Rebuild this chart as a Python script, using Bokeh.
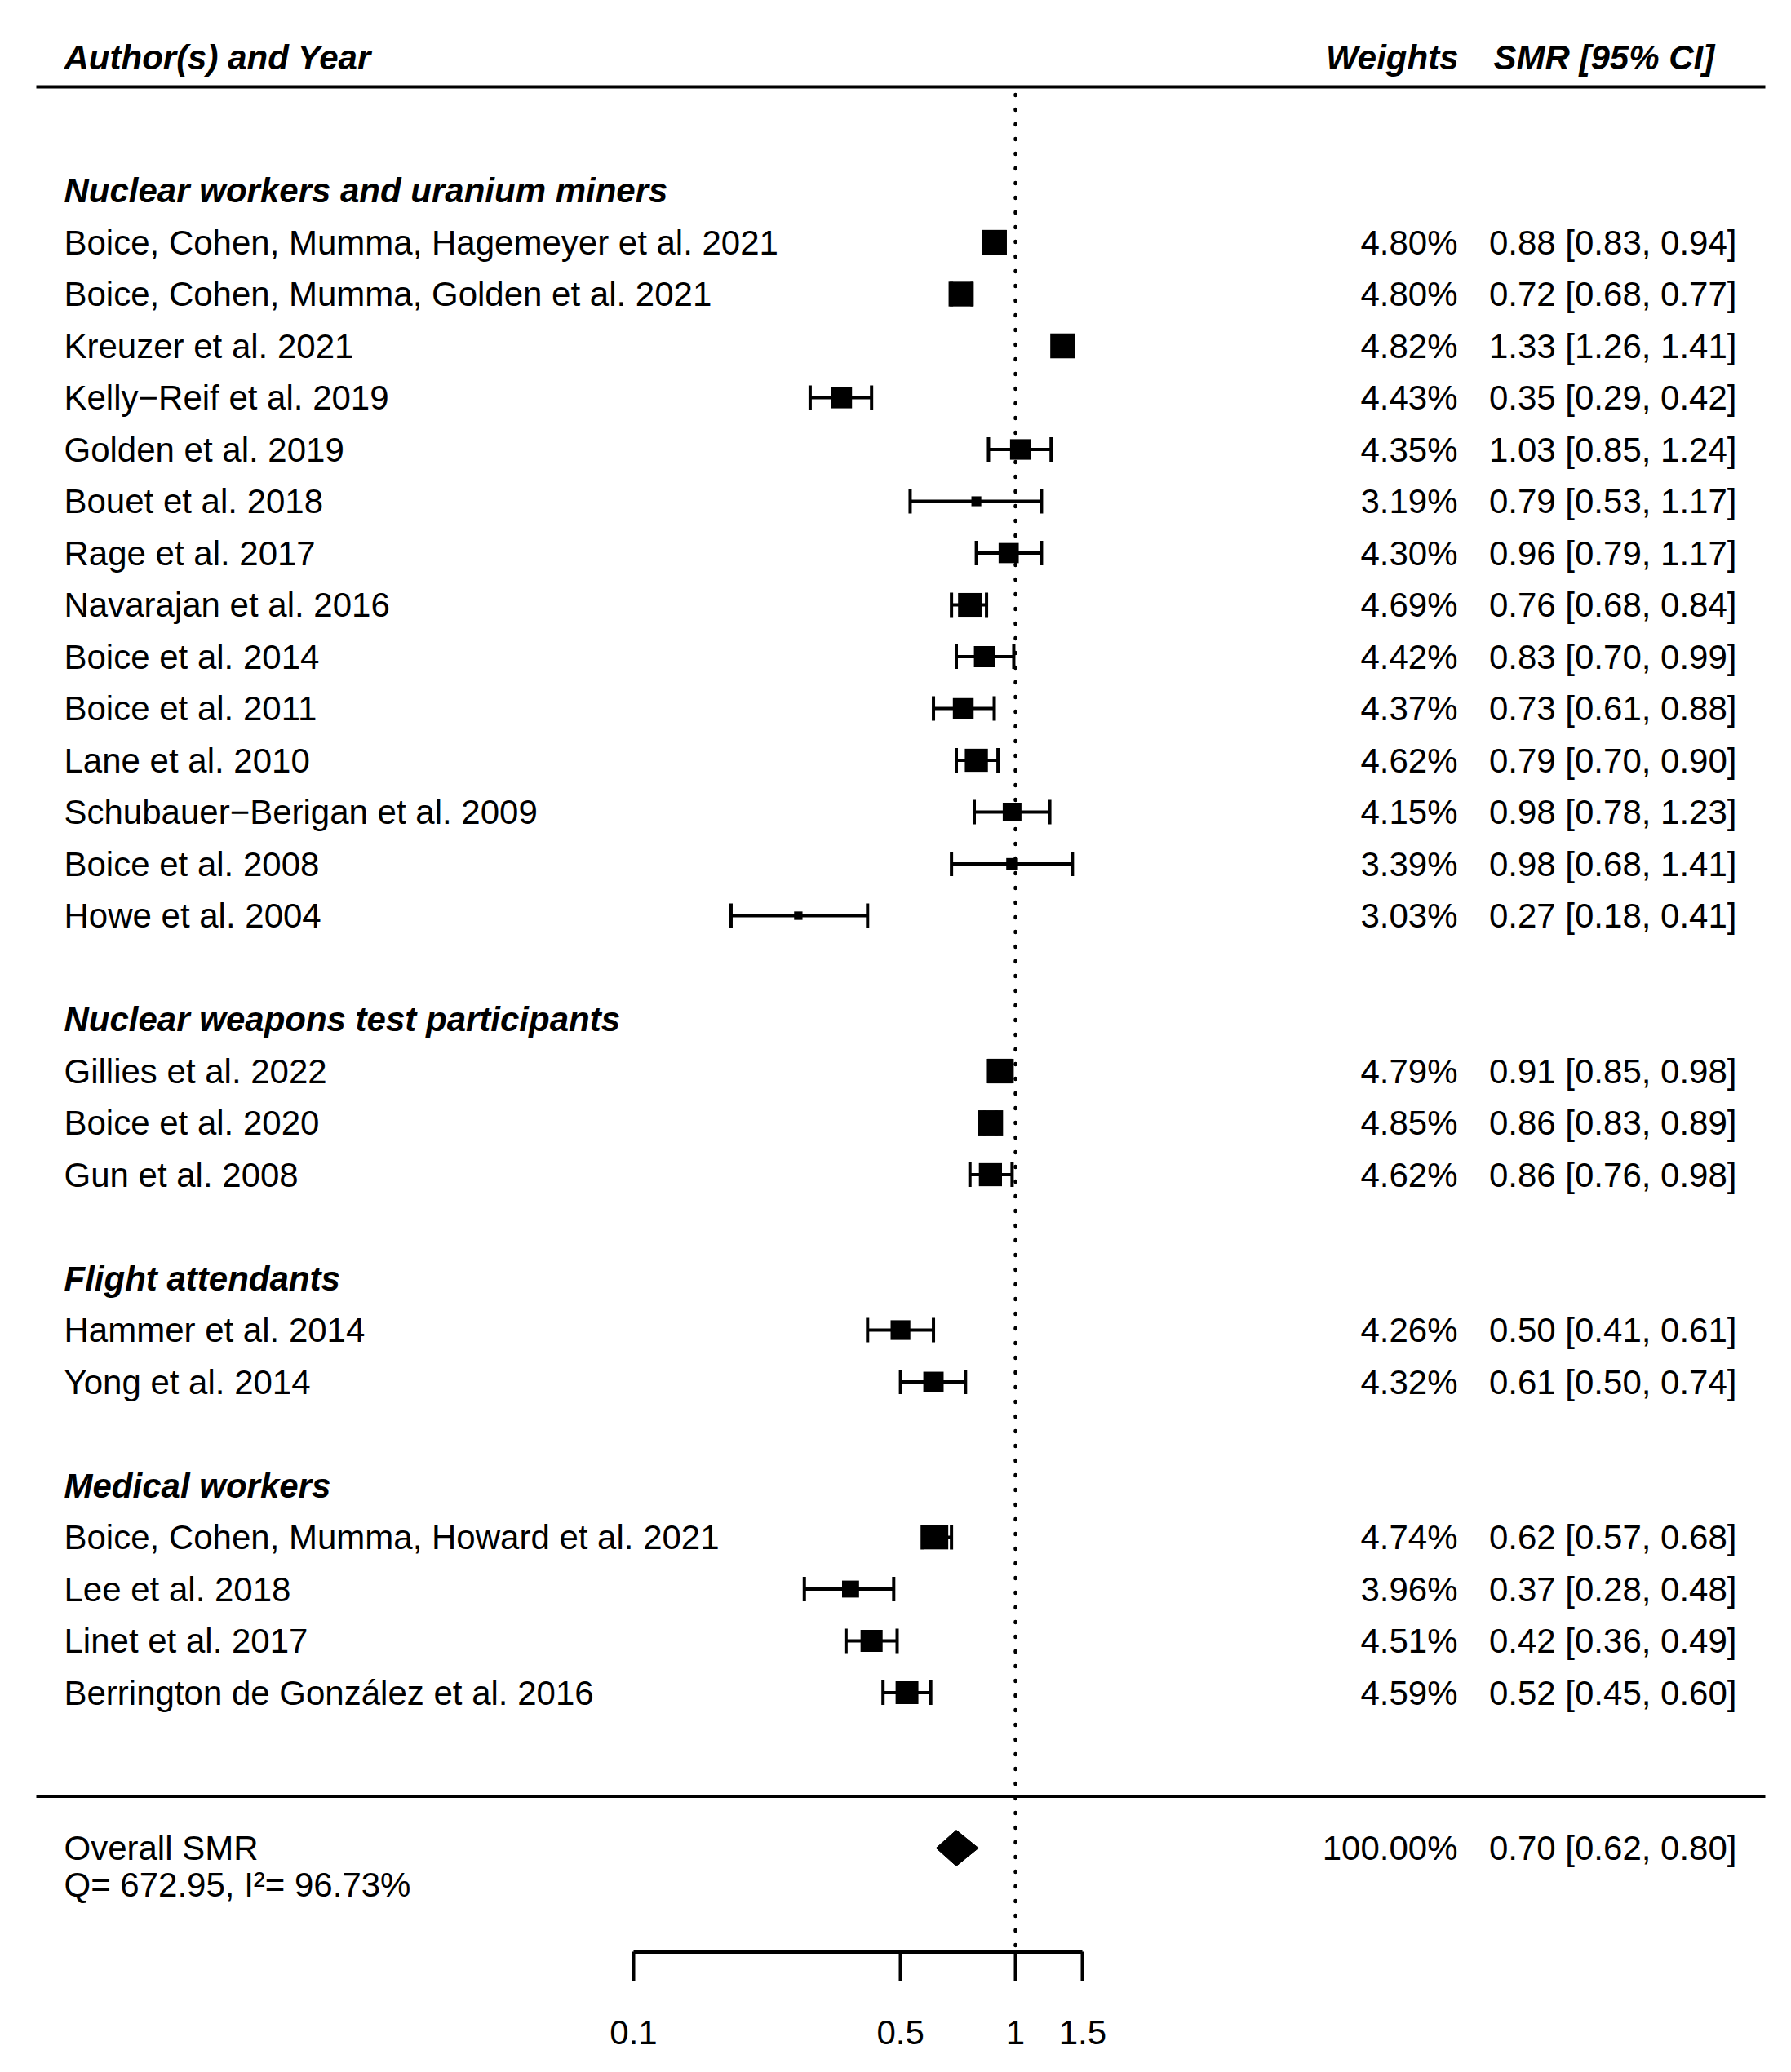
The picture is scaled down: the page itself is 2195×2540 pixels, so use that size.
from bokeh.plotting import figure
from bokeh.models import ColumnDataSource, Range1d, FixedTicker
from bokeh.embed import file_html
from bokeh.resources import INLINE
from bokeh.core.properties import value

# ---------------- data ----------------
group_names = [
    "Nuclear workers and uranium miners",
    "Nuclear weapons test participants",
    "Flight attendants",
    "Medical workers",
]
studies = [
    "Boice, Cohen, Mumma, Hagemeyer et al. 2021",
    "Boice, Cohen, Mumma, Golden et al. 2021",
    "Kreuzer et al. 2021",
    "Kelly\u2212Reif et al. 2019",
    "Golden et al. 2019",
    "Bouet et al. 2018",
    "Rage et al. 2017",
    "Navarajan et al. 2016",
    "Boice et al. 2014",
    "Boice et al. 2011",
    "Lane et al. 2010",
    "Schubauer\u2212Berigan et al. 2009",
    "Boice et al. 2008",
    "Howe et al. 2004",
    "Gillies et al. 2022",
    "Boice et al. 2020",
    "Gun et al. 2008",
    "Hammer et al. 2014",
    "Yong et al. 2014",
    "Boice, Cohen, Mumma, Howard et al. 2021",
    "Lee et al. 2018",
    "Linet et al. 2017",
    "Berrington de Gonz\u00e1lez et al. 2016",
]
study_group = [0] * 14 + [1] * 3 + [2] * 2 + [3] * 4
weights = [4.80, 4.80, 4.82, 4.43, 4.35, 3.19, 4.30, 4.69, 4.42, 4.37, 4.62, 4.15, 3.39, 3.03,
           4.79, 4.85, 4.62,
           4.26, 4.32,
           4.74, 3.96, 4.51, 4.59]
smr = [0.88, 0.72, 1.33, 0.35, 1.03, 0.79, 0.96, 0.76, 0.83, 0.73, 0.79, 0.98, 0.98, 0.27,
       0.91, 0.86, 0.86,
       0.50, 0.61,
       0.62, 0.37, 0.42, 0.52]
ci_lo = [0.83, 0.68, 1.26, 0.29, 0.85, 0.53, 0.79, 0.68, 0.70, 0.61, 0.70, 0.78, 0.68, 0.18,
         0.85, 0.83, 0.76,
         0.41, 0.50,
         0.57, 0.28, 0.36, 0.45]
ci_hi = [0.94, 0.77, 1.41, 0.42, 1.24, 1.17, 1.17, 0.84, 0.99, 0.88, 0.90, 1.23, 1.41, 0.41,
         0.98, 0.89, 0.98,
         0.61, 0.74,
         0.68, 0.48, 0.49, 0.60]
overall_label = "Overall SMR"
overall_weight = 100.00
overall_smr = 0.70
overall_lo = 0.62
overall_hi = 0.80
het_text = "Q= 672.95, I\u00b2= 96.73%"
null_value = 1.0
tick_values = [0.1, 0.5, 1.0, 1.5]
tick_labels = ["0.1", "0.5", "1", "1.5"]
header_left = "Author(s) and Year"
header_weights = "Weights"
header_ci = "SMR [95% CI]"

# ---------------- layout constants ----------------
FONT = "Liberation Sans"
FS = "42px"
W, H = 2179, 2524
X_ONE_PX = 1244         # reference pixel of x = 1
PX_PER_DECADE = 468
ROW_PX = 63.5
AXIS_PX = 2392          # reference pixel of the axis line (row -3)
BOTTOM_BORDER = H - AXIS_PX
FRAME_H = AXIS_PX


def px_to_x(px):
    return 10 ** ((px - X_ONE_PX) / PX_PER_DECADE)


# row positions (metafor-like, one blank row between groups)
group_rows = []
study_rows = [0.0] * len(studies)
cur = 31
for g in range(len(group_names)):
    group_rows.append(cur)
    idx = [i for i, sg in enumerate(study_group) if sg == g]
    for k, i in enumerate(idx):
        study_rows[i] = cur - 1 - k
    cur = cur - len(idx) - 2

y_overall = -1
y_het = -1.71
y_header = 33.57
y_top_rule = 33
y_sum_rule = 0
y_axis = -3

wmin, wmax = min(weights), max(weights)
sizes = [20.6 * (0.5 + (w - wmin) / (wmax - wmin)) for w in weights]
cap = 15 / ROW_PX

p = figure(width=W, height=H, x_axis_type="log",
           x_range=Range1d(px_to_x(0), px_to_x(W)),
           y_range=Range1d(y_axis, y_axis + FRAME_H / ROW_PX),
           output_backend="svg", toolbar_location=None,
           min_border_left=0, min_border_right=0, min_border_top=0,
           min_border_bottom=BOTTOM_BORDER,
           y_axis_location=None, x_axis_location="below",
           outline_line_color=None, background_fill_color="white",
           border_fill_color="white")
p.grid.grid_line_color = None

# rules
xl, xr = px_to_x(44), px_to_x(2163)
p.segment(x0=[xl, xl], x1=[xr, xr], y0=[y_top_rule, y_sum_rule], y1=[y_top_rule, y_sum_rule],
          line_color="black", line_width=4)

# null line
p.segment(x0=[null_value], x1=[null_value], y0=[y_top_rule - 0.15], y1=[y_axis],
          line_color="black", line_width=4.5, line_dash="1 17", line_cap="round")

src = ColumnDataSource(dict(
    y=study_rows, est=smr, lo=ci_lo, hi=ci_hi, size=sizes,
    y0=[r - cap for r in study_rows], y1=[r + cap for r in study_rows],
    name=studies,
    wt=[f"{w:.2f}%" for w in weights],
    ci=[f"{e:.2f} [{l:.2f}, {h:.2f}]" for e, l, h in zip(smr, ci_lo, ci_hi)],
))

p.segment(x0="lo", x1="hi", y0="y", y1="y", source=src, line_color="black", line_width=4)
p.segment(x0="lo", x1="lo", y0="y0", y1="y1", source=src, line_color="black", line_width=4)
p.segment(x0="hi", x1="hi", y0="y0", y1="y1", source=src, line_color="black", line_width=4)
p.scatter(x="est", y="y", size="size", source=src, marker="square",
          fill_color="black", line_color=None)

# summary diamond
dh = 22 / ROW_PX
p.patch(x=[overall_lo, overall_smr, overall_hi, overall_smr],
        y=[y_overall, y_overall + dh, y_overall, y_overall - dh],
        fill_color="black", line_color="black", line_width=1)

x_left = px_to_x(78)
x_wt = px_to_x(1786)
x_ci = px_to_x(2128)

common = dict(text_font=value(FONT), text_font_size=FS, text_color="black",
              text_baseline="middle")

p.text(x=x_left, y="y", text="name", source=src, text_align="left", **common)
p.text(x=x_wt, y="y", text="wt", source=src, text_align="right", **common)
p.text(x=x_ci, y="y", text="ci", source=src, text_align="right", **common)

# group headers
p.text(x=[x_left] * len(group_names), y=group_rows, text=group_names,
       text_align="left", text_font_style="bold italic", **common)

# column headers
p.text(x=[x_left], y=[y_header], text=[header_left], text_align="left",
       text_font_style="bold italic", **common)
p.text(x=[px_to_x(1787)], y=[y_header], text=[header_weights], text_align="right",
       text_font_style="bold italic", **common)
p.text(x=[px_to_x(1830)], y=[y_header], text=[header_ci], text_align="left",
       text_font_style="bold italic", **common)

# overall row
p.text(x=[x_left, x_left], y=[y_overall, y_het], text=[overall_label, het_text],
       text_align="left", **common)
p.text(x=[x_wt], y=[y_overall], text=[f"{overall_weight:.2f}%"], text_align="right", **common)
p.text(x=[x_ci], y=[y_overall],
       text=[f"{overall_smr:.2f} [{overall_lo:.2f}, {overall_hi:.2f}]"],
       text_align="right", **common)

# x axis
ax = p.xaxis[0]
ax.ticker = FixedTicker(ticks=tick_values)
ax.bounds = (tick_values[0], tick_values[-1])
ax.major_label_overrides = {v: l for v, l in zip(tick_values, tick_labels)}
ax.axis_line_width = 5
ax.axis_line_color = "black"
ax.major_tick_line_width = 4
ax.major_tick_line_color = "black"
ax.major_tick_in = 0
ax.major_tick_out = 36
ax.minor_tick_line_color = None
ax.major_label_standoff = 48
ax.major_label_text_font = FONT
ax.major_label_text_font_size = FS
ax.major_label_text_color = "black"

open("out.html", "w").write(file_html(p, INLINE))
